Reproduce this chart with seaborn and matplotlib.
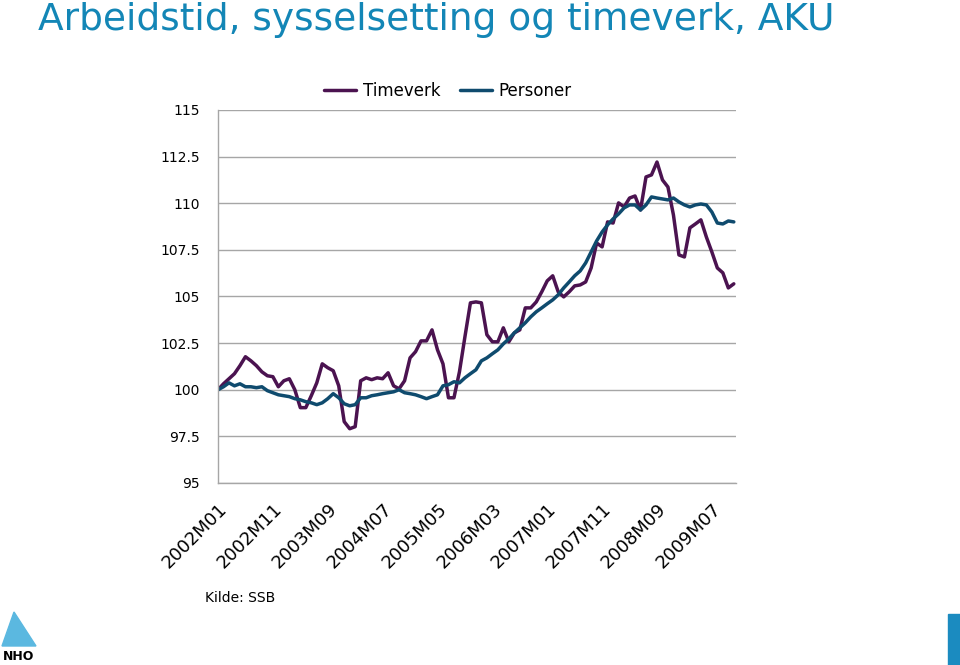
import matplotlib
matplotlib.use("Agg")
import matplotlib.pyplot as plt
import seaborn as sns
import pandas as pd
from matplotlib.patches import Polygon, Rectangle

# Index 2002M01 = 100, monthly
months = [f"{2002 + k // 12}M{k % 12 + 1:02d}" for k in range(95)]

timeverk = [
    100.00, 100.32, 100.59, 100.86, 101.29, 101.77, 101.55, 101.29, 100.96, 100.75,
    100.70, 100.16, 100.48, 100.59, 100.00, 99.04, 99.04, 99.68, 100.37, 101.39,
    101.18, 101.02, 100.21, 98.29, 97.91, 98.02, 100.48, 100.64, 100.54, 100.64,
    100.59, 100.91, 100.21, 100.05, 100.48, 101.71, 102.04, 102.62, 102.62, 103.21,
    102.14, 101.39, 99.57, 99.57, 100.96, 102.84, 104.66, 104.71, 104.66, 102.95,
    102.57, 102.57, 103.32, 102.57, 103.05, 103.21, 104.39, 104.39, 104.71, 105.25,
    105.84, 106.11, 105.25, 104.98, 105.25, 105.57, 105.62, 105.78, 106.53, 107.87,
    107.66, 109.00, 108.94, 110.02, 109.80, 110.28, 110.39, 109.64, 111.41, 111.52,
    112.21, 111.25, 110.87, 109.37, 107.23, 107.12, 108.68, 108.89, 109.11, 108.19,
    107.39, 106.53, 106.27, 105.46, 105.68,
]

personer = [
    100.00, 100.16, 100.37, 100.21, 100.32, 100.16, 100.16, 100.11, 100.16, 99.95,
    99.84, 99.73, 99.68, 99.63, 99.52, 99.46, 99.36, 99.30, 99.20, 99.30,
    99.52, 99.79, 99.57, 99.25, 99.14, 99.20, 99.57, 99.57, 99.68, 99.73,
    99.79, 99.84, 99.89, 100.00, 99.84, 99.79, 99.73, 99.63, 99.52, 99.63,
    99.73, 100.21, 100.27, 100.43, 100.37, 100.64, 100.86, 101.07, 101.55, 101.71,
    101.93, 102.14, 102.46, 102.73, 103.05, 103.32, 103.59, 103.91, 104.18, 104.39,
    104.61, 104.82, 105.09, 105.46, 105.78, 106.11, 106.37, 106.80, 107.39, 107.98,
    108.46, 108.84, 109.16, 109.43, 109.75, 109.91, 109.91, 109.64, 109.91, 110.34,
    110.28, 110.23, 110.18, 110.28, 110.07, 109.91, 109.80, 109.91, 109.96, 109.91,
    109.53, 108.94, 108.89, 109.05, 109.00,
]

series_names = ["Timeverk", "Personer"]
colors = ["#4B1350", "#0F4B6E"]
y_ticks = [95, 97.5, 100, 102.5, 105, 107.5, 110, 112.5, 115]
y_labels = ["95", "97.5", "100", "102.5", "105", "107.5", "110", "112.5", "115"]

df = pd.DataFrame({"idx": range(len(months)), "Timeverk": timeverk, "Personer": personer})
long_df = df.melt(id_vars="idx", value_vars=series_names, var_name="serie", value_name="verdi")

sns.set_style("white")
plt.rcParams["font.family"] = ["DejaVu Sans"]
plt.rcParams["text.color"] = "black"
plt.rcParams["xtick.labelcolor"] = "black"
plt.rcParams["ytick.labelcolor"] = "black"

fig = plt.figure(figsize=(9.6, 6.65), dpi=100)
ax = fig.add_axes([218 / 960, 1 - 483 / 665, (736 - 218) / 960, (483 - 110) / 665])

sns.lineplot(data=long_df, x="idx", y="verdi", hue="serie", hue_order=series_names,
             palette=colors, linewidth=2.5, ax=ax, legend=False)

ax.set_xlim(0, 94.4)
ax.set_ylim(95, 115)
ax.set_yticks(y_ticks)
ax.set_yticklabels(y_labels, fontsize=10, color="black")
ax.yaxis.grid(True, color="#A6A6A6", linewidth=1)
ax.set_axisbelow(True)

ax.set_xticks(range(len(months)))
ax.set_xticklabels([m if i % 10 == 0 else "" for i, m in enumerate(months)],
                   rotation=45, ha="right", rotation_mode="anchor", fontsize=13, color="black")
ax.tick_params(axis="x", length=5, color="#A6A6A6", width=0.8, pad=7)
ax.tick_params(axis="y", length=5, color="#A6A6A6", width=0.8, pad=8)
ax.set_xlabel("")
ax.set_ylabel("")

for s in ["top", "right"]:
    ax.spines[s].set_visible(False)
for s in ["left", "bottom"]:
    ax.spines[s].set_color("#A6A6A6")
    ax.spines[s].set_linewidth(1)

# legend
handles = [plt.Line2D([], [], color=c, linewidth=2.5) for c in colors]
fig.legend(handles, series_names, loc="center", bbox_to_anchor=(448 / 960, 1 - 91 / 665),
           ncol=2, frameon=False, fontsize=12, handlelength=1.9, handletextpad=0.4,
           columnspacing=1.2, labelcolor="black")

fig.text(38 / 960, 1 - 20 / 665, "Arbeidstid, sysselsetting og timeverk, AKU",
         color="#1386B6", fontsize=27, va="center", ha="left")
fig.text(205 / 960, 1 - 598 / 665, "Kilde: SSB", fontsize=10, va="center", ha="left",
         color="black")

# NHO logo and side bar
fig.patches.append(Polygon([(14 / 960, 1 - 612 / 665), (36 / 960, 1 - 646 / 665),
                            (2 / 960, 1 - 646 / 665)], closed=True, color="#5BB8E0",
                           transform=fig.transFigure, figure=fig))
fig.text(3 / 960, 1 - 656 / 665, "NHO", fontsize=9, fontweight="bold", va="center", ha="left",
         color="black")
fig.patches.append(Rectangle((948 / 960, 0), 12 / 960, 51 / 665, color="#1B8BC0",
                             transform=fig.transFigure, figure=fig))

fig.savefig("out.png", dpi=100)
